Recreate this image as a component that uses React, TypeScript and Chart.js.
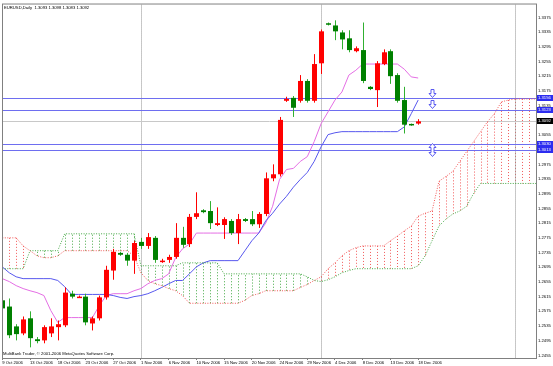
import React, { useEffect, useRef } from 'react';
import { Chart, registerables } from 'chart.js';

Chart.register(...registerables);

const headerText = 'EURUSD,Daily  1.3093 1.3098 1.3083 1.3092';
const footerText = 'MultiBank Trader, © 2001-2006 MetaQuotes Software Corp.';

const opens = [
  1.2605, 1.2588, 1.2534, 1.2515, 1.2556, 1.2499, 1.2496, 1.2515, 1.2532, 1.2537,
  1.2623, 1.2613, 1.2615, 1.2542, 1.2556, 1.2613, 1.2686, 1.2734, 1.2729, 1.2713,
  1.2764, 1.2753, 1.2775, 1.2710, 1.2715, 1.2723, 1.2775, 1.2758, 1.2832, 1.2850,
  1.2848, 1.2810, 1.2810, 1.2821, 1.2788, 1.2826, 1.2826, 1.2812, 1.2840, 1.2937,
  1.2948, 1.3148, 1.3156, 1.3148, 1.3202, 1.3148, 1.3250, 1.3359, 1.3353, 1.3334,
  1.3318, 1.3283, 1.3286, 1.3186, 1.3177, 1.3248, 1.3283, 1.3218, 1.3150, 1.3085,
  1.3086,
];
const highs = [
  1.2610, 1.2610, 1.2540, 1.2561, 1.2575, 1.2505, 1.2537, 1.2556, 1.2550, 1.2640,
  1.2631, 1.2618, 1.2623, 1.2561, 1.2618, 1.2699, 1.2745, 1.2737, 1.2734, 1.2767,
  1.2775, 1.2788, 1.2780, 1.2718, 1.2729, 1.2815, 1.2805, 1.2840, 1.2899, 1.2853,
  1.2875, 1.2858, 1.2831, 1.2826, 1.2840, 1.2829, 1.2848, 1.2845, 1.2953, 1.2975,
  1.3104, 1.3159, 1.3161, 1.3218, 1.3207, 1.3275, 1.3342, 1.3361, 1.3367, 1.3340,
  1.3340, 1.3296, 1.3361, 1.3188, 1.3256, 1.3288, 1.3288, 1.3223, 1.3186, 1.3086,
  1.3098,
];
const lows = [
  1.2577, 1.2502, 1.2496, 1.2510, 1.2477, 1.2488, 1.2488, 1.2505, 1.2496, 1.2532,
  1.2610, 1.2613, 1.2537, 1.2523, 1.2550, 1.2607, 1.2661, 1.2726, 1.2699, 1.2677,
  1.2745, 1.2745, 1.2707, 1.2707, 1.2707, 1.2718, 1.2748, 1.2750, 1.2826, 1.2842,
  1.2799, 1.2807, 1.2772, 1.2783, 1.2758, 1.2818, 1.2807, 1.2802, 1.2834, 1.2929,
  1.2942, 1.3145, 1.3104, 1.3143, 1.3143, 1.3143, 1.3221, 1.3353, 1.3313, 1.3288,
  1.3280, 1.3280, 1.3196, 1.3177, 1.3131, 1.3245, 1.3194, 1.3143, 1.3059, 1.3080,
  1.3083,
];
const closes = [
  1.2583, 1.2510, 1.2513, 1.2553, 1.2502, 1.2494, 1.2532, 1.2534, 1.2540, 1.2626,
  1.2615, 1.2615, 1.2545, 1.2556, 1.2613, 1.2688, 1.2737, 1.2729, 1.2713, 1.2761,
  1.2753, 1.2777, 1.2715, 1.2713, 1.2723, 1.2775, 1.2756, 1.2832, 1.2842, 1.2845,
  1.2815, 1.2815, 1.2826, 1.2788, 1.2826, 1.2821, 1.2812, 1.2840, 1.2937, 1.2948,
  1.3096, 1.3153, 1.3129, 1.3202, 1.3148, 1.3248, 1.3337, 1.3356, 1.3337, 1.3315,
  1.3286, 1.3291, 1.3202, 1.3180, 1.3250, 1.3280, 1.3215, 1.3148, 1.3083, 1.3082,
  1.3092,
];

const tenkan = [
  1.2664, 1.2656, 1.2645, 1.2637, 1.2631, 1.2626, 1.2618, 1.2577, 1.2545, 1.2558,
  1.2558, 1.2558, 1.2558, 1.2558, 1.2591, 1.2618, 1.2623, 1.2623, 1.2623, 1.2631,
  1.2637, 1.2650, 1.2659, 1.2664, 1.2677, 1.2721, 1.2745, 1.2758, 1.2788, 1.2788,
  1.2788, 1.2788, 1.2788, 1.2788, 1.2788, 1.2788, 1.2788, 1.2788, 1.2815, 1.2861,
  1.2934, 1.2961, 1.2964, 1.2983, 1.2996, 1.3037, 1.3086, 1.3118, 1.3150, 1.3172,
  1.3218, 1.3231, 1.3248, 1.3248, 1.3248, 1.3248, 1.3248, 1.3248, 1.3234, 1.3213,
  1.3210,
];
const kijun = [
  1.2696, 1.2680, 1.2669, 1.2664, 1.2664, 1.2664, 1.2664, 1.2664, 1.2659, 1.2642,
  1.2621, 1.2621, 1.2621, 1.2621, 1.2621, 1.2621, 1.2618, 1.2613, 1.2610, 1.2615,
  1.2618, 1.2623, 1.2631, 1.2640, 1.2650, 1.2659, 1.2659, 1.2677, 1.2696, 1.2707,
  1.2713, 1.2713, 1.2713, 1.2713, 1.2713, 1.2740, 1.2767, 1.2788, 1.2821, 1.2842,
  1.2867, 1.2888, 1.2913, 1.2934, 1.2953, 1.2983, 1.3023, 1.3056, 1.3061, 1.3064,
  1.3064, 1.3064, 1.3064, 1.3064, 1.3064, 1.3064, 1.3064, 1.3064, 1.3077, 1.3113,
  1.3150,
];
const spanA = [
  1.2775, 1.2775, 1.2775, 1.2753, 1.2740, 1.2726, 1.2721, 1.2721, 1.2726, 1.2740,
  1.2740, 1.2740, 1.2740, 1.2740, 1.2740, 1.2740, 1.2740, 1.2740, 1.2740, 1.2726,
  1.2680, 1.2659, 1.2650, 1.2645, 1.2637, 1.2631, 1.2618, 1.2597, 1.2597, 1.2597,
  1.2597, 1.2597, 1.2597, 1.2597, 1.2597, 1.2605, 1.2618, 1.2623, 1.2631, 1.2631,
  1.2631, 1.2631, 1.2631, 1.2640, 1.2648, 1.2659, 1.2669, 1.2691, 1.2707, 1.2726,
  1.2740, 1.2748, 1.2753, 1.2753, 1.2753, 1.2753, 1.2767, 1.2780, 1.2794, 1.2807,
  1.2834, 1.2842, 1.2848, 1.2929, 1.2942, 1.2956, 1.2983, 1.3010, 1.3037, 1.3064,
  1.3091, 1.3113, 1.3145, 1.3150, 1.3153, 1.3153, 1.3153, 1.3153, 1.3153, 1.3153,
  1.3153, 1.3153, 1.3153, 1.3153, 1.3153, 1.3153, 1.3153,
];
const spanB = [
  1.2691, 1.2691, 1.2691, 1.2691, 1.2740, 1.2740, 1.2740, 1.2740, 1.2740, 1.2786,
  1.2786, 1.2786, 1.2786, 1.2786, 1.2786, 1.2786, 1.2786, 1.2786, 1.2786, 1.2786,
  1.2699, 1.2699, 1.2699, 1.2699, 1.2699, 1.2699, 1.2707, 1.2707, 1.2707, 1.2707,
  1.2707, 1.2707, 1.2677, 1.2677, 1.2677, 1.2677, 1.2677, 1.2677, 1.2677, 1.2677,
  1.2677, 1.2677, 1.2677, 1.2677, 1.2669, 1.2659, 1.2656, 1.2661, 1.2669, 1.2680,
  1.2686, 1.2691, 1.2691, 1.2691, 1.2691, 1.2691, 1.2691, 1.2691, 1.2691, 1.2691,
  1.2699, 1.2726, 1.2767, 1.2807, 1.2826, 1.2840, 1.2848, 1.2861, 1.2896, 1.2923,
  1.2923, 1.2923, 1.2923, 1.2923, 1.2923, 1.2923, 1.2923, 1.2923, 1.2923, 1.2923,
  1.2923, 1.2923, 1.2923, 1.2923, 1.2923, 1.2923, 1.2923,
];

const dateTickBars = [0, 4, 8, 12, 16, 20, 24, 28, 32, 36, 40, 44, 48, 52, 56, 60];
const dateTickLabels = [
  '9 Oct 2006', '13 Oct 2006', '18 Oct 2006', '23 Oct 2006', '27 Oct 2006',
  '1 Nov 2006', '6 Nov 2006', '10 Nov 2006', '15 Nov 2006', '20 Nov 2006',
  '24 Nov 2006', '29 Nov 2006', '4 Dec 2006', '8 Dec 2006', '13 Dec 2006', '18 Dec 2006',
];
const priceTicks = [
  1.2455, 1.2495, 1.2535, 1.2575, 1.2615, 1.2655, 1.2695, 1.2735, 1.2775, 1.2815,
  1.2855, 1.2895, 1.2935, 1.2975, 1.3015, 1.3055, 1.3095, 1.3135, 1.3175, 1.3215,
  1.3255, 1.3295, 1.3335, 1.3375,
];
const hLinePrices = [1.3156, 1.3123, 1.3030, 1.3013];
const bidPrice = 1.3092;
const separatorBars = [20, 46, 74];
const arrowBars = [62, 62, 62];
const arrowPrices = [1.3180, 1.3150, 1.3032];
const arrowKinds = ['down', 'down', 'both'];

const FONT = "'Liberation Sans', Arial, sans-serif";

const ichimokuPlugin = {
  id: 'ichimokuDraw',
  beforeDatasetsDraw(chart: any) {
    const { ctx, chartArea: a, scales } = chart;
    const x = scales.x;
    const y = scales.y;
    ctx.save();
    ctx.beginPath();
    ctx.rect(a.left, a.top, a.right - a.left, a.bottom - a.top);
    ctx.clip();
    ctx.lineWidth = 1;
    ctx.setLineDash([1, 2]);
    for (let i = 0; i < spanA.length; i++) {
      const px = Math.round(x.getPixelForValue(i)) + 0.5;
      const ya = y.getPixelForValue(spanA[i]);
      const yb = y.getPixelForValue(spanB[i]);
      ctx.strokeStyle = spanA[i] >= spanB[i] ? '#f25a5a' : '#45a845';
      ctx.beginPath();
      ctx.moveTo(px, ya);
      ctx.lineTo(px, yb);
      ctx.stroke();
    }
    ctx.strokeStyle = '#909090';
    ctx.setLineDash([1, 1]);
    separatorBars.forEach((b) => {
      const px = Math.round(x.getPixelForValue(b)) + 0.5;
      ctx.beginPath();
      ctx.moveTo(px, a.top);
      ctx.lineTo(px, a.bottom);
      ctx.stroke();
    });
    ctx.setLineDash([]);
    ctx.strokeStyle = '#c8c8c8';
    const by = Math.round(y.getPixelForValue(bidPrice)) + 0.5;
    ctx.beginPath();
    ctx.moveTo(a.left, by);
    ctx.lineTo(a.right, by);
    ctx.stroke();
    ctx.strokeStyle = '#6e6ef0';
    ctx.lineWidth = 1.2;
    hLinePrices.forEach((p) => {
      const py = Math.round(y.getPixelForValue(p)) + 0.5;
      ctx.beginPath();
      ctx.moveTo(a.left, py);
      ctx.lineTo(a.right, py);
      ctx.stroke();
    });
    ctx.restore();
  },
  afterDatasetsDraw(chart: any) {
    const { ctx, chartArea: a, scales } = chart;
    const x = scales.x;
    const y = scales.y;
    ctx.save();
    ctx.beginPath();
    ctx.rect(a.left, a.top, a.right - a.left, a.bottom - a.top);
    ctx.clip();
    for (let i = 0; i < opens.length; i++) {
      const cx = Math.round(x.getPixelForValue(i)) + 0.5;
      const up = closes[i] >= opens[i];
      const body = up ? '#ff0000' : '#008000';
      const wick = up ? '#ff0000' : '#30b030';
      ctx.strokeStyle = wick;
      ctx.lineWidth = 1;
      ctx.beginPath();
      ctx.moveTo(cx, y.getPixelForValue(highs[i]));
      ctx.lineTo(cx, y.getPixelForValue(lows[i]));
      ctx.stroke();
      const yo = y.getPixelForValue(opens[i]);
      const yc = y.getPixelForValue(closes[i]);
      const top = Math.min(yo, yc);
      const h = Math.max(Math.abs(yo - yc), 1.5);
      ctx.fillStyle = body;
      ctx.fillRect(cx - 2.5, top, 5, h);
    }
    ctx.strokeStyle = '#5a5af0';
    ctx.fillStyle = '#ffffff';
    ctx.lineWidth = 1;
    for (let k = 0; k < arrowBars.length; k++) {
      const cx = Math.round(x.getPixelForValue(arrowBars[k])) + 0.5;
      const t = Math.round(y.getPixelForValue(arrowPrices[k])) + 0.5;
      ctx.beginPath();
      if (arrowKinds[k] === 'down') {
        ctx.moveTo(cx - 1.5, t);
        ctx.lineTo(cx + 1.5, t);
        ctx.lineTo(cx + 1.5, t + 4);
        ctx.lineTo(cx + 3.5, t + 4);
        ctx.lineTo(cx, t + 8);
        ctx.lineTo(cx - 3.5, t + 4);
        ctx.lineTo(cx - 1.5, t + 4);
      } else {
        ctx.moveTo(cx, t);
        ctx.lineTo(cx + 3.5, t + 4);
        ctx.lineTo(cx + 1.5, t + 4);
        ctx.lineTo(cx + 1.5, t + 9);
        ctx.lineTo(cx + 3.5, t + 9);
        ctx.lineTo(cx, t + 13);
        ctx.lineTo(cx - 3.5, t + 9);
        ctx.lineTo(cx - 1.5, t + 9);
        ctx.lineTo(cx - 1.5, t + 4);
        ctx.lineTo(cx - 3.5, t + 4);
      }
      ctx.closePath();
      ctx.fill();
      ctx.stroke();
    }
    ctx.restore();
  },
  afterDraw(chart: any) {
    const { ctx, chartArea: a, scales, width } = chart;
    const y = scales.y;
    ctx.save();
    ctx.strokeStyle = '#808080';
    ctx.lineWidth = 1;
    ctx.strokeRect(a.left - 0.5, a.top - 0.5, a.right - a.left + 1, a.bottom - a.top + 1);
    ctx.fillStyle = '#000000';
    ctx.font = `4.2px ${FONT}`;
    ctx.textBaseline = 'middle';
    ctx.textAlign = 'left';
    ctx.fillText(headerText, a.left + 1, a.top + 3.5);
    ctx.fillText(footerText, a.left, a.bottom - 4);
    const box = (p: number, fill: string) => {
      const py = Math.round(y.getPixelForValue(p));
      ctx.fillStyle = fill;
      ctx.fillRect(a.right + 1, py - 3, width - a.right - 1, 6);
      ctx.fillStyle = '#ffffff';
      ctx.font = `4.2px ${FONT}`;
      ctx.textBaseline = 'middle';
      ctx.fillText(p.toFixed(4), a.right + 2, py + 0.3);
    };
    hLinePrices.forEach((p) => box(p, '#2c2cf0'));
    box(bidPrice, '#000000');
    ctx.restore();
  },
};

export default function App() {
  const canvasRef = useRef<HTMLCanvasElement | null>(null);

  useEffect(() => {
    const canvas = canvasRef.current;
    if (!canvas) return;
    const toPts = (arr: number[]) => arr.map((v, i) => ({ x: i, y: v }));
    const chart = new Chart(canvas, {
      type: 'line',
      data: {
        datasets: [
          { label: 'Span A', data: toPts(spanA), borderColor: '#f25a5a', borderWidth: 1, borderDash: [1, 1.5], pointRadius: 0, tension: 0 },
          { label: 'Span B', data: toPts(spanB), borderColor: '#45a845', borderWidth: 1, borderDash: [1, 1.5], pointRadius: 0, tension: 0 },
          { label: 'Kijun', data: toPts(kijun), borderColor: '#5858ee', borderWidth: 1, pointRadius: 0, tension: 0 },
          { label: 'Tenkan', data: toPts(tenkan), borderColor: '#e46ee4', borderWidth: 1, pointRadius: 0, tension: 0 },
        ],
      },
      options: {
        responsive: false,
        animation: false,
        devicePixelRatio: 1,
        events: [],
        layout: { padding: { left: 3, top: 2, right: 0, bottom: 0 } },
        plugins: { legend: { display: false }, tooltip: { enabled: false }, title: { display: false } },
        scales: {
          x: {
            type: 'linear',
            min: 0.1,
            max: 77,
            afterBuildTicks: (axis: any) => {
              axis.ticks = dateTickBars.map((v) => ({ value: v }));
            },
            afterFit: (axis: any) => {
              axis.height = 8;
            },
            grid: { display: true, drawOnChartArea: false, drawTicks: true, tickLength: 2, color: '#808080' },
            border: { display: false },
            ticks: {
              autoSkip: false,
              maxRotation: 0,
              minRotation: 0,
              align: 'start',
              padding: 0,
              color: '#000000',
              font: { family: FONT, size: 4.2 },
              callback: (_v: any, idx: number) => dateTickLabels[idx] ?? '',
            },
          },
          y: {
            type: 'linear',
            position: 'right',
            min: 1.2448,
            max: 1.3410,
            afterBuildTicks: (axis: any) => {
              axis.ticks = priceTicks.map((v) => ({ value: v }));
            },
            afterFit: (axis: any) => {
              axis.width = 17;
            },
            grid: { display: false, drawTicks: false },
            border: { display: false },
            ticks: {
              autoSkip: false,
              padding: 2,
              color: '#000000',
              font: { family: FONT, size: 4.2 },
              callback: (v: any) => Number(v).toFixed(4),
            },
          },
        },
      },
      plugins: [ichimokuPlugin],
    } as any);
    return () => chart.destroy();
  }, []);

  return (
    <div style={{ position: 'fixed', left: 0, top: 0, width: 553, height: 366, background: '#ffffff' }}>
      <canvas ref={canvasRef} width={553} height={366} style={{ display: 'block' }} />
    </div>
  );
}
